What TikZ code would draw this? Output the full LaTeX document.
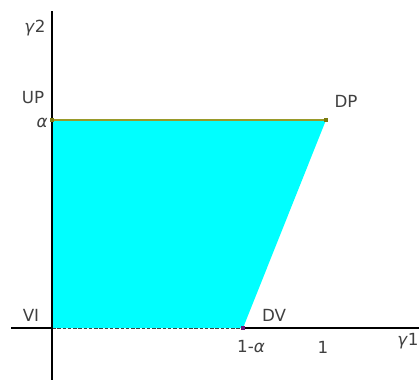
\documentclass[tikz,border=0pt]{standalone}
\usepackage{fontspec}
\setmainfont{DejaVu Sans}
\usepackage{xcolor}
\definecolor{regioncyan}{HTML}{00FFFF}
\definecolor{edgeolive}{HTML}{9A9A2A}
\definecolor{markolive}{HTML}{7A7A10}
\definecolor{markpurple}{HTML}{6A1A7A}
\definecolor{labelgray}{HTML}{404040}

\begin{document}
\begin{tikzpicture}[x=0.02cm,y=-0.02cm,
  lbl/.style={font=\fontsize{9.5}{11}\selectfont,text=labelgray,inner sep=0pt},
  marker/.style={minimum size=0.09cm,inner sep=0pt,draw=none}]
\useasboundingbox (0,0) rectangle (419,380);
% corners of the region
\coordinate (VI) at (52,328);
\coordinate (UP) at (52,120);
\coordinate (DP) at (326,120);
\coordinate (DV) at (243,328);
% region
\fill[regioncyan] (VI) -- (UP) -- (DP) -- (DV) -- cycle;
\draw[edgeolive,thick] (UP) -- (DP);
\draw[labelgray,dash pattern=on 2pt off 1pt] (VI) -- (DV);
% axes
\coordinate (xstart) at (11,328);
\coordinate (xend) at (419,328);
\coordinate (ystart) at (52,11);
\coordinate (yend) at (52,380);
\draw[black,line width=0.6pt] (xstart) -- (VI);
\draw[black,line width=0.6pt] (DV) -- (xend);
\draw[black,line width=0.6pt] (ystart) -- (yend);
% markers
\node[marker,fill=markolive] (mUP) at (UP) {};
\node[marker,fill=markolive] (mDP) at (DP) {};
\node[marker,fill=markpurple] (mDV) at (DV) {};
% labels
\node[lbl] (lg2) at (35,28) {\textit{γ}2};
\node[lbl] (lUP) at (33,98) {UP};
\node[lbl] (la) at (42,123) {\textit{α}};
\node[lbl] (lDP) at (346,101) {DP};
\node[lbl] (lVI) at (31,315) {VI};
\node[lbl] (lDV) at (274,315) {DV};
\node[lbl] (l1a) at (251,347) {1-\textit{α}};
\node[lbl] (l1) at (323,347) {1};
\node[lbl] (lg1) at (408,341) {\textit{γ}1};
\end{tikzpicture}
\end{document}
